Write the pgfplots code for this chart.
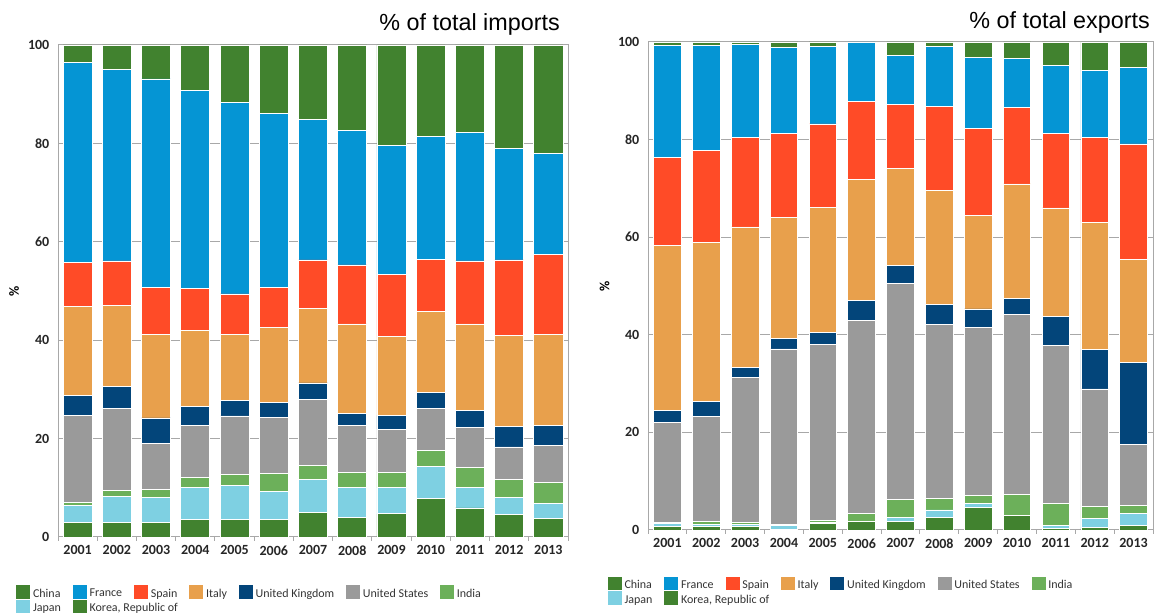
\documentclass[border=0pt]{standalone}
\usepackage{pgfplots}
\usepackage{pgfplotstable}
\pgfplotsset{compat=1.18}
\usepackage{fontspec}
\setmainfont{Carlito}
\newfontfamily\titlefont{Liberation Sans}

\definecolor{cChina}{HTML}{41822F}
\definecolor{cFrance}{HTML}{0595D4}
\definecolor{cSpain}{HTML}{FF4B27}
\definecolor{cItaly}{HTML}{E8A04C}
\definecolor{cUK}{HTML}{03457A}
\definecolor{cUS}{HTML}{9A9A9A}
\definecolor{cIndia}{HTML}{6CB05A}
\definecolor{cJapan}{HTML}{7ED0E2}
\definecolor{cKorea}{HTML}{41822F}
\definecolor{cGrid}{HTML}{A8A8A8}

\pgfplotstableread{
x Korea Japan India US UK Italy Spain France China
0 2.9 3.5 0.7 17.6 4.1 18.0 9.0 40.7 3.5
1 3.0 5.3 1.2 16.7 4.4 16.5 9.0 39.0 4.9
2 2.9 5.1 1.6 9.4 5.2 17.0 9.5 42.4 6.9
3 3.5 6.5 2.1 10.6 3.9 15.4 8.5 40.3 9.2
4 3.5 6.9 2.3 11.9 3.1 13.5 8.2 38.9 11.7
5 3.5 5.8 3.6 11.4 3.0 15.2 8.3 35.2 14.0
6 4.9 6.8 2.9 13.3 3.4 15.1 9.9 28.6 15.1
7 3.9 6.1 3.2 9.4 2.5 18.2 12.0 27.4 17.3
8 4.7 5.3 3.2 8.7 2.8 16.0 12.7 26.1 20.5
9 7.9 6.5 3.1 8.6 3.2 16.6 10.5 25.0 18.6
10 5.9 4.1 4.1 8.1 3.6 17.5 12.8 26.1 17.8
11 4.6 3.4 3.7 6.6 4.1 18.5 15.4 22.7 21.0
12 3.7 3.1 4.3 7.5 4.0 18.6 16.2 20.6 22.0
}\imports

\pgfplotstableread{
x Korea Japan India US UK Italy Spain France China
0 0.7 0.7 0.2 20.5 2.4 33.8 18.1 22.8 0.8
1 0.7 0.5 0.6 21.4 3.1 32.7 18.8 21.4 0.8
2 0.7 0.5 0.3 29.7 2.2 28.7 18.4 19.0 0.5
3 0.2 0.7 0.2 36.0 2.2 24.7 17.2 17.6 1.2
4 1.4 0.1 0.4 36.2 2.4 25.6 17.1 15.9 0.9
5 1.7 0.1 1.6 39.5 4.1 24.8 16.0 12.2 0.0
6 1.7 0.9 3.6 44.4 3.7 19.7 13.2 10.0 2.8
7 2.6 1.5 2.4 35.7 4.1 23.3 17.2 12.3 0.9
8 4.6 0.9 1.5 34.5 3.8 19.1 17.8 14.7 3.1
9 2.9 0.1 4.3 36.9 3.3 23.4 15.7 10.1 3.3
10 0.3 0.6 4.6 32.3 5.9 22.3 15.2 14.0 4.8
11 0.5 1.9 2.4 24.1 8.1 26.0 17.5 13.6 5.9
12 1.0 2.4 1.7 12.5 16.8 21.0 23.7 15.7 5.2
}\exports

\pgfplotsset{
  panel/.style={
    scale only axis,
    ybar stacked,
    ymin=0, ymax=100,
    xmin=-0.5, xmax=12.5,
    ytick={0,20,40,60,80,100},
    xtick={-0.5,0.5,1.5,2.5,3.5,4.5,5.5,6.5,7.5,8.5,9.5,10.5,11.5,12.5},
    x tick label as interval,
    xticklabels={2001,2002,2003,2004,2005,2006,2007,2008,2009,2010,2011,2012,2013},
    xtick pos=lower, ytick pos=left,
    tick align=outside,
    major tick length=3pt,
    xtick style={draw=cGrid, line width=0.75pt},
    ytick style={draw=none},
    ymajorgrids,
    grid style={cGrid, line width=0.75pt},
    axis line style={cGrid, line width=0.75pt},
    /pgf/number format/assume math mode=true,
    tick label style={font=\bfseries\fontsize{10.5}{12}\selectfont, text=black!85},
    ylabel={\%},
    ylabel style={font=\bfseries\fontsize{10.5}{12}\selectfont},
    every axis plot/.append style={draw=white, line width=0.6pt},
    legend columns=7,
    reverse legend,
    legend cell align=left,
    legend image code/.code={\fill[##1, draw=none] (0pt,-3.4pt) rectangle (10.5pt,6.6pt);},
    legend style={draw=none, fill=none, anchor=north west,
      font=\fontsize{9}{10}\selectfont, text=black!80,
      row sep=-1.5pt,
      /tikz/every even column/.append style={column sep=7pt}},
  }
}

\begin{document}
\begin{tikzpicture}
\useasboundingbox (0,0) rectangle (867pt,462pt);

\begin{axis}[panel,
  at={(43.5pt,59.25pt)}, anchor=south west,
  width=382.5pt, height=369pt,
  bar width=0.74,
  ylabel style={at={(rel axis cs:-0.086,0.5)}, anchor=center},
  legend style={at={(rel axis cs:-0.09,-0.092)}},
]
\addplot[fill=cKorea] table[x=x,y=Korea]{\imports};
\addplot[fill=cJapan] table[x=x,y=Japan]{\imports};
\addplot[fill=cIndia] table[x=x,y=India]{\imports};
\addplot[fill=cUS] table[x=x,y=US]{\imports};
\addplot[fill=cUK] table[x=x,y=UK]{\imports};
\addplot[fill=cItaly] table[x=x,y=Italy]{\imports};
\addplot[fill=cSpain] table[x=x,y=Spain]{\imports};
\addplot[fill=cFrance] table[x=x,y=France]{\imports};
\addplot[fill=cChina] table[x=x,y=China]{\imports};
\legend{\rlap{Korea, Republic of},Japan,India,United States,United Kingdom,Italy,Spain,France,China}
\end{axis}

\begin{axis}[panel,
  at={(486pt,64.5pt)}, anchor=south west,
  width=378.75pt, height=366pt,
  bar width=0.71,
  ylabel style={at={(rel axis cs:-0.086,0.5)}, anchor=center},
  legend style={at={(rel axis cs:-0.088,-0.09)}},
]
\addplot[fill=cKorea] table[x=x,y=Korea]{\exports};
\addplot[fill=cJapan] table[x=x,y=Japan]{\exports};
\addplot[fill=cIndia] table[x=x,y=India]{\exports};
\addplot[fill=cUS] table[x=x,y=US]{\exports};
\addplot[fill=cUK] table[x=x,y=UK]{\exports};
\addplot[fill=cItaly] table[x=x,y=Italy]{\exports};
\addplot[fill=cSpain] table[x=x,y=Spain]{\exports};
\addplot[fill=cFrance] table[x=x,y=France]{\exports};
\addplot[fill=cChina] table[x=x,y=China]{\exports};
\legend{\rlap{Korea, Republic of},Japan,India,United States,United Kingdom,Italy,Spain,France,China}
\end{axis}

\node[anchor=base east, inner sep=0pt, font=\titlefont\fontsize{17.5}{20}\selectfont] at (420pt,439pt) {\% of total imports};
\node[anchor=base east, inner sep=0pt, font=\titlefont\fontsize{17.5}{20}\selectfont] at (862.5pt,440.5pt) {\% of total exports};
\end{tikzpicture}
\end{document}
